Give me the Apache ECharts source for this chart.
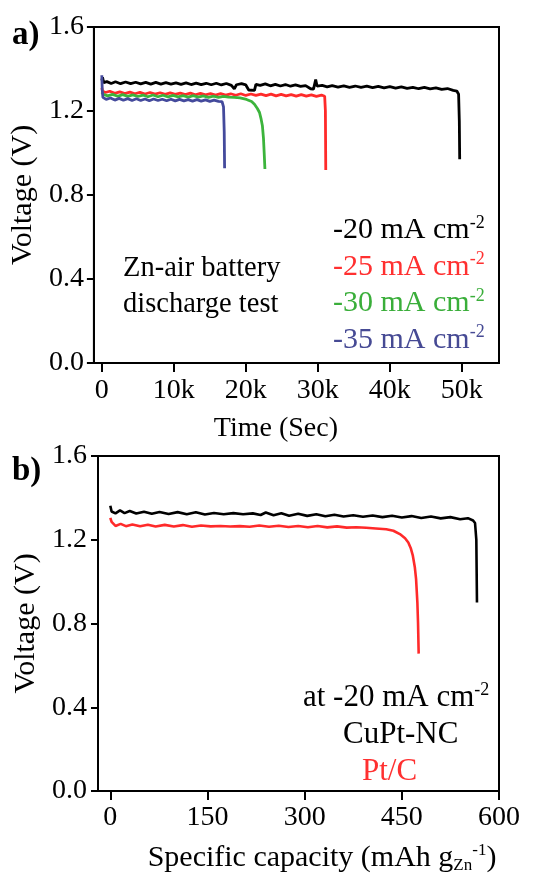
<!DOCTYPE html>
<html>
<head>
<meta charset="utf-8">
<script src="https://cdn.jsdelivr.net/npm/echarts@6/dist/echarts.min.js"></script>
<style>html,body{margin:0;padding:0;background:#fff;}#c{width:540px;height:875px;}</style>
</head>
<body>
<div id="c"></div>
<script>
// ---------- DATA ----------
// Panel a) : Time (s) vs Voltage (V)
const seriesNamesA = ['-20 mA cm-2', '-25 mA cm-2', '-30 mA cm-2', '-35 mA cm-2'];
const dischargeA20 = [[0,1.345],[100,1.36],[250,1.335],[700,1.34],[1300,1.331],[1900,1.339],[2600,1.33],[3300,1.338],[4000,1.33],[4700,1.337],[5400,1.329],[6100,1.336],[6800,1.328],[7500,1.336],[8200,1.328],[8900,1.335],[9600,1.328],[10300,1.334],[11000,1.327],[11700,1.334],[12400,1.326],[13100,1.333],[13800,1.326],[14500,1.332],[15200,1.325],[15900,1.332],[16600,1.324],[17300,1.331],[18000,1.322],[18400,1.305],[18700,1.325],[19400,1.33],[20000,1.324],[20400,1.3],[21200,1.298],[21400,1.327],[22000,1.322],[22700,1.329],[23400,1.32],[24100,1.327],[24800,1.319],[25500,1.326],[26200,1.318],[26900,1.324],[27600,1.317],[28300,1.321],[29000,1.306],[29400,1.304],[29700,1.35],[29900,1.318],[30600,1.322],[31300,1.315],[32000,1.321],[32800,1.314],[33600,1.32],[34400,1.313],[35200,1.319],[36000,1.312],[36800,1.318],[37600,1.311],[38400,1.317],[39200,1.31],[40000,1.316],[40800,1.309],[41600,1.315],[42400,1.308],[43200,1.313],[44000,1.306],[44800,1.312],[45600,1.305],[46400,1.31],[47200,1.303],[48000,1.307],[48800,1.298],[49300,1.295],[49550,1.28],[49650,1.15],[49700,0.97]];
const dischargeA25 = [[0,1.31],[100,1.295],[500,1.288],[1100,1.294],[1800,1.284],[2500,1.291],[3200,1.283],[3900,1.29],[4600,1.282],[5300,1.289],[6000,1.281],[6700,1.288],[7400,1.28],[8100,1.287],[8800,1.279],[9500,1.286],[10200,1.279],[10900,1.285],[11600,1.278],[12300,1.285],[13000,1.277],[13700,1.284],[14400,1.277],[15100,1.283],[15800,1.276],[16500,1.283],[17200,1.276],[17900,1.282],[18600,1.275],[19300,1.282],[20000,1.274],[20700,1.281],[21400,1.274],[22100,1.28],[22800,1.273],[23500,1.28],[24200,1.272],[24900,1.279],[25600,1.272],[26300,1.278],[27000,1.271],[27700,1.278],[28400,1.271],[29100,1.277],[29800,1.27],[30500,1.276],[30950,1.27],[31050,1.2],[31100,0.919]];
const dischargeA30 = [[0,1.29],[200,1.28],[800,1.272],[1500,1.279],[2200,1.27],[2900,1.278],[3600,1.27],[4300,1.277],[5000,1.269],[5700,1.276],[6400,1.268],[7100,1.276],[7800,1.268],[8500,1.275],[9200,1.267],[9900,1.274],[10600,1.267],[11300,1.273],[12000,1.266],[12700,1.273],[13400,1.266],[14100,1.272],[14800,1.265],[15500,1.271],[16200,1.265],[16900,1.27],[17600,1.266],[18400,1.265],[19200,1.262],[20100,1.255],[20800,1.245],[21200,1.232],[21600,1.212],[21900,1.193],[22100,1.165],[22300,1.13],[22450,1.07],[22550,1.0],[22650,0.924]];
const dischargeA35 = [[0,1.37],[60,1.30],[150,1.265],[600,1.255],[1200,1.262],[1800,1.252],[2400,1.26],[3000,1.251],[3600,1.259],[4200,1.25],[4800,1.258],[5400,1.25],[6000,1.257],[6600,1.249],[7200,1.257],[7800,1.25],[8400,1.256],[9000,1.249],[9600,1.256],[10200,1.248],[10800,1.255],[11400,1.248],[12000,1.254],[12600,1.247],[13200,1.254],[13800,1.247],[14400,1.253],[15000,1.246],[15600,1.252],[16200,1.246],[16700,1.245],[16900,1.22],[17000,1.1],[17050,0.927]];
const xTicksA = [0, 10000, 20000, 30000, 40000, 50000];
const xTickLabelsA = ['0', '10k', '20k', '30k', '40k', '50k'];

// Panel b) : Specific capacity (mAh g-1) vs Voltage (V)
const seriesNamesB = ['CuPt-NC', 'Pt/C'];
const capacityCuPt = [[0,1.362],[2,1.335],[8,1.326],[15,1.34],[22,1.327],[30,1.337],[40,1.325],[52,1.334],[64,1.324],[76,1.333],[90,1.323],[104,1.332],[118,1.322],[132,1.331],[146,1.321],[160,1.328],[175,1.322],[190,1.327],[205,1.322],[220,1.326],[232,1.318],[240,1.33],[252,1.317],[264,1.327],[276,1.315],[290,1.324],[304,1.314],[318,1.322],[332,1.312],[346,1.319],[360,1.311],[375,1.317],[390,1.31],[405,1.316],[420,1.308],[435,1.315],[450,1.306],[465,1.313],[480,1.304],[495,1.311],[510,1.302],[525,1.308],[540,1.298],[552,1.303],[560,1.292],[563,1.28],[565,1.2],[566,0.9]];
const capacityPtC = [[0,1.305],[2,1.285],[8,1.266],[16,1.276],[24,1.265],[34,1.273],[46,1.264],[58,1.272],[70,1.263],[84,1.271],[98,1.263],[112,1.27],[126,1.262],[140,1.268],[155,1.264],[170,1.266],[185,1.263],[200,1.265],[215,1.262],[230,1.268],[245,1.262],[260,1.267],[275,1.261],[290,1.266],[305,1.26],[320,1.266],[335,1.259],[350,1.264],[365,1.258],[380,1.26],[395,1.257],[410,1.254],[426,1.25],[437,1.243],[447,1.227],[455,1.207],[460,1.187],[464,1.158],[467,1.124],[470,1.07],[472,1.012],[474,0.9],[475,0.805],[476,0.656]];
const xTicksB = [0, 150, 300, 450, 600];
const yTicks = [0, 0.4, 0.8, 1.2, 1.6];

// ---------- STYLE ----------
const FONT = 'Liberation Serif';
const colorsA = ['#000000', '#ff2a2a', '#3cb43c', '#444a9c'];
const textColorsA = ['#000000', '#ff3030', '#3aae3a', '#464a94'];
const colorsB = ['#000000', '#ff2a2a'];

const chart = echarts.init(document.getElementById('c'), null, {renderer: 'canvas'});

function yAxisCfg(gridIndex, gap, margin) {
  return {
    type: 'value', gridIndex: gridIndex, min: 0, max: 1.6, interval: 0.4,
    name: 'Voltage (V)', nameLocation: 'middle', nameGap: gap, nameRotate: 90,
    nameTextStyle: {fontFamily: FONT, fontSize: 30, color: '#000'},
    axisLine: {show: true, onZero: false, lineStyle: {color: '#000', width: 2}},
    axisTick: {show: true, inside: false, length: 7, lineStyle: {color: '#000', width: 2}},
    axisLabel: {fontFamily: FONT, fontSize: 28, color: '#000', margin: margin,
      formatter: v => v.toFixed(1)},
    splitLine: {show: false}
  };
}

const richTop = {
  t: {fontFamily: FONT, fontSize: 30, lineHeight: 33},
  s: {fontFamily: FONT, fontSize: 18, lineHeight: 18, verticalAlign: 'top'}
};
const richBottom = {
  t: {fontFamily: FONT, fontSize: 31, lineHeight: 33},
  s: {fontFamily: FONT, fontSize: 18, lineHeight: 18, verticalAlign: 'top'}
};

const option = {
  animation: false,
  backgroundColor: '#fff',
  grid: [
    {left: 92, right: 41, top: 27, height: 336, show: true, borderColor: '#000', borderWidth: 2, backgroundColor: 'transparent'},
    {left: 98, right: 41, top: 456, height: 335, show: true, borderColor: '#000', borderWidth: 2, backgroundColor: 'transparent'}
  ],
  xAxis: [
    {
      type: 'value', gridIndex: 0, min: -1100, max: 55160,
      name: 'Time (Sec)', nameLocation: 'middle', nameGap: 52,
      nameTextStyle: {fontFamily: FONT, fontSize: 28, color: '#000', padding: [0, 41, 0, 0]},
      axisLine: {show: true, onZero: false, lineStyle: {color: '#000', width: 2}},
      axisTick: {show: true, inside: false, length: 9, customValues: xTicksA, lineStyle: {color: '#000', width: 2}},
      axisLabel: {fontFamily: FONT, fontSize: 28, color: '#000', margin: 14, customValues: xTicksA,
        formatter: v => xTickLabelsA[xTicksA.indexOf(v)]},
      splitLine: {show: false}
    },
    {
      type: 'value', gridIndex: 1, min: -19, max: 600,
      name: '{t|Specific capacity (mAh g}{sub|Zn}{sup|-1}{t|)}', nameLocation: 'middle', nameGap: 51,
      nameTextStyle: {fontFamily: FONT, fontSize: 30, color: '#000', padding: [0, 0, 0, 47],
        rich: {
          t: {fontFamily: FONT, fontSize: 30, lineHeight: 32},
          sub: {fontFamily: FONT, fontSize: 17, lineHeight: 17, verticalAlign: 'bottom'},
          sup: {fontFamily: FONT, fontSize: 17, lineHeight: 17, verticalAlign: 'top'}
        }},
      axisLine: {show: true, onZero: false, lineStyle: {color: '#000', width: 2}},
      axisTick: {show: true, inside: false, length: 9, customValues: xTicksB, lineStyle: {color: '#000', width: 2}},
      axisLabel: {fontFamily: FONT, fontSize: 28, color: '#000', margin: 13, customValues: xTicksB,
        formatter: v => String(v)},
      splitLine: {show: false}
    }
  ],
  yAxis: [yAxisCfg(0, 50, 10), yAxisCfg(1, 53, 11)],
  legend: [
    {
      left: 323, top: 209, orient: 'vertical', itemGap: 5, itemWidth: 0, itemHeight: 0, icon: 'none',
      selectedMode: false,
      data: seriesNamesA.map((n, i) => ({name: n, textStyle: {color: textColorsA[i]}})),
      formatter: n => '{t|' + n.slice(0, -2) + '}{s|-2}',
      textStyle: {fontFamily: FONT, fontSize: 30, rich: richTop}
    },
    {
      left: 333, top: 714, orient: 'vertical', itemWidth: 0, itemHeight: 0, icon: 'none',
      selectedMode: false,
      data: [{name: seriesNamesB[0], textStyle: {color: '#000'}}],
      formatter: n => '{t|' + n + '}',
      textStyle: {fontFamily: FONT, fontSize: 31, rich: richBottom}
    },
    {
      left: 352, top: 751, orient: 'vertical', itemWidth: 0, itemHeight: 0, icon: 'none',
      selectedMode: false,
      data: [{name: seriesNamesB[1], textStyle: {color: '#ff3030'}}],
      formatter: n => '{t|' + n + '}',
      textStyle: {fontFamily: FONT, fontSize: 31, rich: richBottom}
    }
  ],
  graphic: [
    {type: 'text', left: 12, top: 19, style: {text: 'a)', font: 'bold 33px "Liberation Serif"', fill: '#000'}},
    {type: 'text', left: 12, top: 455, style: {text: 'b)', font: 'bold 33px "Liberation Serif"', fill: '#000'}},
    {type: 'text', left: 123, top: 251, style: {text: 'Zn-air battery\ndischarge test', font: '28.5px "Liberation Serif"', fill: '#000', lineHeight: 36}},
    {type: 'text', left: 303, top: 681, style: {text: '{t|at -20 mA cm}{s|-2}', fill: '#000', rich: richBottom}}
  ],
  series: [
    {name: seriesNamesA[0], type: 'line', xAxisIndex: 0, yAxisIndex: 0, data: dischargeA20, showSymbol: false, lineStyle: {color: colorsA[0], width: 2.8}, itemStyle: {color: colorsA[0]}},
    {name: seriesNamesA[1], type: 'line', xAxisIndex: 0, yAxisIndex: 0, data: dischargeA25, showSymbol: false, lineStyle: {color: colorsA[1], width: 2.8}, itemStyle: {color: colorsA[1]}},
    {name: seriesNamesA[2], type: 'line', xAxisIndex: 0, yAxisIndex: 0, data: dischargeA30, showSymbol: false, lineStyle: {color: colorsA[2], width: 2.8}, itemStyle: {color: colorsA[2]}},
    {name: seriesNamesA[3], type: 'line', xAxisIndex: 0, yAxisIndex: 0, data: dischargeA35, showSymbol: false, lineStyle: {color: colorsA[3], width: 2.8}, itemStyle: {color: colorsA[3]}},
    {name: seriesNamesB[0], type: 'line', xAxisIndex: 1, yAxisIndex: 1, data: capacityCuPt, showSymbol: false, lineStyle: {color: colorsB[0], width: 2.6}, itemStyle: {color: colorsB[0]}},
    {name: seriesNamesB[1], type: 'line', xAxisIndex: 1, yAxisIndex: 1, data: capacityPtC, showSymbol: false, lineStyle: {color: colorsB[1], width: 2.6}, itemStyle: {color: colorsB[1]}}
  ]
};
chart.setOption(option);
</script>
</body>
</html>
